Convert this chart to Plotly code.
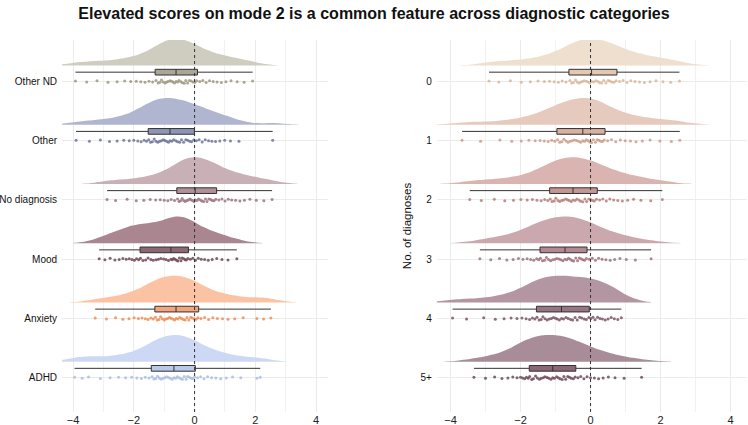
import plotly.graph_objects as go

TITLE = "Elevated scores on mode 2 is a common feature across diagnostic categories"

# Left panel: diagnostic categories (bottom to top)
left_labels = ["ADHD", "Anxiety", "Mood", "No diagnosis", "Other", "Other ND"]
adhd = [-3.95, -3.7, -3.49, -3.1, -2.78, -2.5, -2.27, -2.07, -1.9, -1.75, -1.62, -1.5, -1.40,
        -1.34, -1.28, -1.22, -1.16, -1.10, -1.04, -0.98, -0.92, -0.86, -0.80, -0.74, -0.68,
        -0.62, -0.57, -0.51, -0.45, -0.40, -0.34, -0.28, -0.23, -0.17, -0.11, -0.06, 0.0,
        0.1, 0.2, 0.31, 0.43, 0.56, 0.7, 0.86, 1.04, 1.25, 1.52, 2.05, 2.16]
anxiety = [-3.27, -2.9, -2.6, -2.36, -2.16, -1.99, -1.85, -1.73, -1.62, -1.53, -1.44, -1.36, -1.29,
           -1.23, -1.17, -1.12, -1.06, -1.0, -0.95, -0.89, -0.83, -0.78, -0.72, -0.66, -0.61,
           -0.55, -0.49, -0.43, -0.37, -0.31, -0.25, -0.19, -0.13, -0.07, -0.01, 0.05, 0.11,
           0.21, 0.33, 0.46, 0.6, 0.75, 0.92, 1.1, 1.32, 1.6, 2.05, 2.27, 2.51]
mood = [-3.14, -2.95, -2.78, -2.62, -2.48, -2.36, -2.25, -2.15, -2.06, -1.98, -1.91, -1.84, -1.78,
        -1.70, -1.61, -1.53, -1.44, -1.36, -1.27, -1.19, -1.11, -1.02, -0.94, -0.86, -0.78,
        -0.73, -0.69, -0.64, -0.59, -0.55, -0.50, -0.45, -0.41, -0.36, -0.31, -0.27, -0.22,
        -0.14, -0.06, 0.03, 0.12, 0.22, 0.33, 0.45, 0.58, 0.73, 0.9, 1.1, 1.39]
no_diag = [-2.88, -2.6, -2.22, -1.92, -1.67, -1.46, -1.28, -1.13, -1.0, -0.88, -0.77, -0.66, -0.56,
           -0.51, -0.46, -0.41, -0.36, -0.31, -0.26, -0.21, -0.16, -0.12, -0.07, -0.02, 0.02,
           0.08, 0.13, 0.19, 0.24, 0.30, 0.36, 0.41, 0.47, 0.53, 0.58, 0.64, 0.70,
           0.80, 0.90, 1.0, 1.11, 1.22, 1.35, 1.49, 1.64, 1.82, 2.03, 2.28, 2.55]
other = [-3.9, -3.46, -3.1, -2.8, -2.55, -2.33, -2.15, -2.0, -1.87, -1.76, -1.66, -1.58, -1.51,
         -1.45, -1.39, -1.33, -1.27, -1.21, -1.15, -1.09, -1.03, -0.98, -0.92, -0.86, -0.81,
         -0.75, -0.69, -0.62, -0.56, -0.49, -0.43, -0.36, -0.29, -0.23, -0.16, -0.10, -0.03,
         0.06, 0.15, 0.25, 0.35, 0.46, 0.57, 0.69, 0.83, 0.99, 1.18, 1.46, 2.57]
other_nd = [-3.92, -3.55, -3.21, -2.85, -2.55, -2.3, -2.1, -1.92, -1.77, -1.63, -1.5, -1.38, -1.27,
            -1.20, -1.14, -1.09, -1.03, -0.97, -0.92, -0.87, -0.81, -0.76, -0.71, -0.66, -0.61,
            -0.56, -0.51, -0.45, -0.40, -0.34, -0.29, -0.23, -0.17, -0.11, -0.05, 0.01, 0.07,
            0.17, 0.27, 0.38, 0.49, 0.61, 0.74, 0.88, 1.03, 1.2, 1.4, 1.63, 1.91]
left_values = [adhd, anxiety, mood, no_diag, other, other_nd]
left_fill = ["#c9d6f3", "#fbbe9c", "#a27c87", "#c4a9b0", "#a9b0cb", "#cbc8bb"]
left_box = ["#b9c9ea", "#f4a57c", "#8e6774", "#b08f98", "#8d95b6", "#aba796"]
left_pts = ["#a9bde6", "#f08c52", "#6e4656", "#9a7480", "#6b7499", "#9c987f"]

# Right panel: number of diagnoses (bottom to top)
right_labels = ["5+", "4", "3", "2", "1", "0"]
d5 = [-3.33, -3.0, -2.74, -2.53, -2.36, -2.22, -2.1, -2.0, -1.94, -1.88, -1.83, -1.78, -1.74,
      -1.68, -1.63, -1.57, -1.52, -1.46, -1.41, -1.35, -1.30, -1.24, -1.19, -1.13, -1.08,
      -1.03, -0.97, -0.92, -0.87, -0.81, -0.76, -0.71, -0.65, -0.60, -0.55, -0.49, -0.44,
      -0.36, -0.28, -0.19, -0.1, 0.0, 0.11, 0.23, 0.36, 0.51, 0.7, 0.96, 1.46]
d4 = [-3.94, -3.54, -3.05, -2.72, -2.47, -2.27, -2.1, -1.96, -1.84, -1.74, -1.66, -1.59, -1.53,
      -1.47, -1.41, -1.36, -1.30, -1.24, -1.18, -1.12, -1.06, -1.0, -0.95, -0.89, -0.83,
      -0.77, -0.70, -0.64, -0.57, -0.51, -0.44, -0.38, -0.31, -0.25, -0.18, -0.12, -0.05,
      0.01, 0.07, 0.13, 0.2, 0.27, 0.34, 0.42, 0.5, 0.59, 0.68, 0.78, 0.88]
d3 = [-3.16, -2.85, -2.6, -2.39, -2.21, -2.06, -1.93, -1.81, -1.71, -1.62, -1.54, -1.48, -1.43,
      -1.37, -1.31, -1.26, -1.20, -1.14, -1.08, -1.02, -0.96, -0.90, -0.85, -0.79, -0.73,
      -0.68, -0.63, -0.58, -0.53, -0.48, -0.42, -0.37, -0.32, -0.27, -0.22, -0.17, -0.12,
      -0.04, 0.05, 0.14, 0.23, 0.33, 0.44, 0.56, 0.69, 0.84, 1.02, 1.28, 1.73]
d2 = [-3.45, -3.12, -2.75, -2.45, -2.2, -1.99, -1.81, -1.66, -1.53, -1.41, -1.31, -1.22, -1.15,
      -1.10, -1.04, -0.99, -0.93, -0.88, -0.82, -0.77, -0.71, -0.66, -0.61, -0.55, -0.50,
      -0.44, -0.39, -0.33, -0.28, -0.22, -0.16, -0.11, -0.05, 0.0, 0.06, 0.11, 0.17,
      0.26, 0.35, 0.45, 0.55, 0.66, 0.78, 0.91, 1.06, 1.23, 1.44, 1.72, 2.05]
d1 = [-3.67, -3.14, -2.59, -2.25, -1.98, -1.76, -1.58, -1.44, -1.32, -1.21, -1.11, -1.02, -0.94,
      -0.88, -0.82, -0.76, -0.70, -0.64, -0.58, -0.52, -0.46, -0.40, -0.34, -0.28, -0.22,
      -0.17, -0.12, -0.07, -0.02, 0.03, 0.08, 0.14, 0.19, 0.24, 0.29, 0.34, 0.39,
      0.49, 0.6, 0.72, 0.85, 0.99, 1.14, 1.3, 1.48, 1.7, 1.98, 2.31, 2.55]
d0 = [-2.9, -2.62, -2.29, -1.98, -1.72, -1.5, -1.32, -1.17, -1.04, -0.92, -0.81, -0.7, -0.59,
      -0.54, -0.49, -0.43, -0.38, -0.33, -0.28, -0.23, -0.18, -0.12, -0.07, -0.02, 0.03,
      0.09, 0.15, 0.21, 0.26, 0.32, 0.38, 0.44, 0.5, 0.55, 0.61, 0.67, 0.73,
      0.83, 0.93, 1.04, 1.15, 1.27, 1.4, 1.54, 1.7, 1.87, 2.07, 2.29, 2.54]
right_values = [d5, d4, d3, d2, d1, d0]
right_fill = ["#a1838f", "#ad8d99", "#c7a1a6", "#d6aeaa", "#e4c5b7", "#eedcca"]
right_box = ["#8a6878", "#977483", "#b48890", "#c69693", "#d8b09f", "#e4c8b1"]
right_pts = ["#6f4a5c", "#7a5466", "#a1707a", "#b87c7a", "#cf9b86", "#d9b69b"]

X_TICKS = [-4, -2, 0, 2, 4]
X_TICKTEXT = ["\u22124", "\u22122", "0", "2", "4"]

FONT = "Liberation Sans, Arial, sans-serif"

fig = go.Figure()

DENS_OFF, BOX_OFF = 0.27, 0.157


def add_panel(values, fills, boxes, pts, xa, ya):
    for k, (vals, fc, bc, pc) in enumerate(zip(values, fills, boxes, pts)):
        pos = k + 1
        fig.add_trace(go.Violin(
            x=vals, y=[pos + DENS_OFF] * len(vals), orientation="h", side="positive",
            width=0.9, fillcolor=fc, line=dict(width=0, color=fc), opacity=0.92,
            points=False, box_visible=False, meanline_visible=False,
            bandwidth=0.42, spanmode="soft", scalemode="width",
            xaxis=xa, yaxis=ya, showlegend=False, hoverinfo="skip"))
        fig.add_trace(go.Box(
            x=vals, y=[pos + BOX_OFF] * len(vals), orientation="h", width=0.096,
            fillcolor=bc, line=dict(color="#333333", width=1), whiskerwidth=0,
            boxpoints=False, xaxis=xa, yaxis=ya, showlegend=False, hoverinfo="skip"))
        fig.add_trace(go.Box(
            x=vals, y=[pos] * len(vals), orientation="h", width=0.09,
            fillcolor="rgba(0,0,0,0)", line=dict(width=0, color="rgba(0,0,0,0)"),
            boxpoints="all", jitter=0.7, pointpos=0,
            marker=dict(size=3, color=pc, opacity=0.85),
            xaxis=xa, yaxis=ya, showlegend=False, hoverinfo="skip"))


add_panel(left_values, left_fill, left_box, left_pts, "x", "y")
add_panel(right_values, right_fill, right_box, right_pts, "x2", "y2")

axis_common = dict(showgrid=True, gridcolor="#ebebeb", gridwidth=1, zeroline=False,
                   showline=False, ticks="", tickfont=dict(size=11, color="#222222", family=FONT),
                   minor=dict(dtick=1, tick0=0, showgrid=True, gridcolor="#f1f1f1", ticks=""))
yaxis_common = dict(domain=[0, 1], range=[0.42, 6.70], tickvals=[1, 2, 3, 4, 5, 6],
                    automargin=False, ticklabelstandoff=4,
                    tickfont=dict(size=10, color="#111111", family=FONT),
                    showgrid=True, gridcolor="#ebebeb", zeroline=False, showline=False, ticks="")

fig.update_layout(
    width=748, height=425,
    margin=dict(l=0, r=0, t=40, b=13),
    plot_bgcolor="white", paper_bgcolor="white",
    violinmode="overlay", boxmode="overlay",
    font=dict(family=FONT, color="#111111"),
    title=dict(text="<b>" + TITLE + "</b>", x=0.5, xanchor="center", y=0.968,
               yanchor="middle", font=dict(size=16, color="#111111")),
    xaxis=dict(domain=[0.083, 0.4385], range=[-4.36, 4.39], tickvals=X_TICKS,
               ticktext=X_TICKTEXT, automargin=False, **axis_common),
    yaxis=dict(ticktext=left_labels, **yaxis_common),
    xaxis2=dict(domain=[0.584, 0.9987], range=[-4.39, 4.47], tickvals=X_TICKS,
                ticktext=X_TICKTEXT, automargin=False, **axis_common),
    yaxis2=dict(anchor="x2", ticktext=right_labels,
                title=dict(text="No. of diagnoses", standoff=6, font=dict(size=11.5, color="#111111")),
                **yaxis_common),
)

for xr, yr in [("x", "y domain"), ("x2", "y2 domain")]:
    fig.add_shape(type="line", xref=xr, yref=yr, x0=0, x1=0, y0=0, y1=1,
                  line=dict(color="#333333", width=1, dash="dot"), layer="above")

fig.write_html("out.html", config={"displayModeBar": False},
               post_script="document.body.style.margin='0px';")
